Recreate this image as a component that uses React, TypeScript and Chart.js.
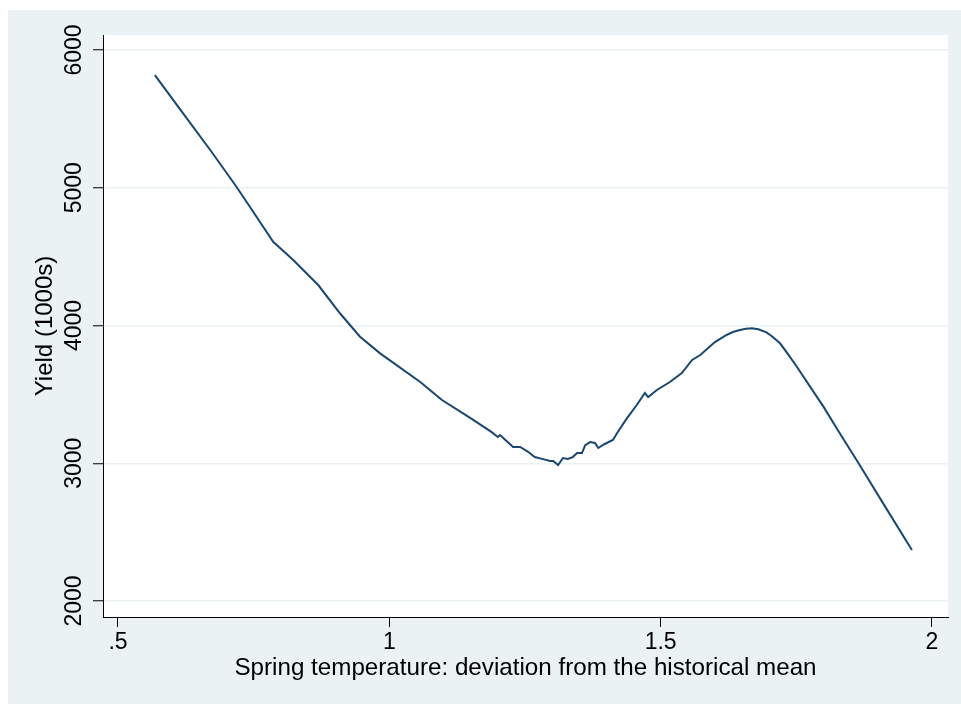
import React, { useEffect, useRef } from "react";
import { Chart, registerables } from "chart.js";

Chart.register(...registerables);

// Spring temperature deviation (x) and yield in 1000s (y)
const xValues = [
  0.568, 0.620, 0.670, 0.716, 0.743, 0.786, 0.823, 0.869, 0.909, 0.946,
  0.983, 1.057, 1.097, 1.149, 1.188, 1.200, 1.204, 1.215, 1.228, 1.241,
  1.255, 1.268, 1.283, 1.296, 1.302, 1.311, 1.320, 1.329, 1.338, 1.346,
  1.355, 1.361, 1.370, 1.379, 1.385, 1.397, 1.412, 1.421, 1.438, 1.456,
  1.471, 1.477, 1.493, 1.517, 1.539, 1.558, 1.573, 1.600, 1.620, 1.633,
  1.646, 1.657, 1.668, 1.680, 1.695, 1.705, 1.720, 1.735, 1.751, 1.775,
  1.800, 1.830, 1.861, 1.910, 1.963,
];
const yValues = [
  5818, 5540, 5274, 5020, 4862, 4608, 4476, 4294, 4089, 3919,
  3798, 3590, 3459, 3329, 3228, 3191, 3205, 3165, 3118, 3118,
  3085, 3045, 3030, 3016, 3016, 2987, 3038, 3031, 3045, 3074,
  3074, 3132, 3154, 3147, 3111, 3140, 3169, 3227, 3328, 3423,
  3510, 3481, 3532, 3590, 3655, 3750, 3786, 3880, 3928, 3953,
  3967, 3977, 3980, 3973, 3950, 3922, 3871, 3790, 3701, 3558,
  3411, 3218, 3024, 2709, 2370,
];

const xTickValues = [0.5, 1, 1.5, 2];
const xTickLabels = [".5", "1", "1.5", "2"];
const yTickValues = [2000, 3000, 4000, 5000, 6000];
const yTickLabels = ["2000", "3000", "4000", "5000", "6000"];
const xAxisTitle = "Spring temperature: deviation from the historical mean";
const yAxisTitle = "Yield (1000s)";
const xBounds = [0.4724, 2.0295];
const yBounds = [1884, 6109];

const FONT = "'Liberation Sans', Arial, Helvetica, sans-serif";
const BG = "#eaf2f3";
const NAVY = "#1a476f";

const plotBackground = {
  id: "plotBackground",
  beforeDraw(chart: any) {
    const { ctx, chartArea: a } = chart;
    ctx.save();
    ctx.fillStyle = "#ffffff";
    ctx.fillRect(a.left, a.top, a.right - a.left, a.bottom - a.top);
    ctx.restore();
  },
};

export default function App() {
  const canvasRef = useRef<HTMLCanvasElement | null>(null);

  useEffect(() => {
    document.body.style.overflow = "hidden";
    const canvas = canvasRef.current;
    if (!canvas) return;
    const points = xValues.map((x, i) => ({ x, y: yValues[i] }));
    const chart = new Chart(canvas, {
      type: "line",
      data: {
        datasets: [
          {
            data: points,
            borderColor: NAVY,
            borderWidth: 2,
            pointRadius: 0,
            tension: 0,
            fill: false,
          },
        ],
      },
      options: {
        responsive: false,
        animation: false,
        devicePixelRatio: 1,
        layout: { padding: { left: 0, top: 25, right: 13, bottom: 0 } },
        plugins: {
          legend: { display: false },
          tooltip: { enabled: false },
        },
        scales: {
          x: {
            type: "linear",
            min: xBounds[0],
            max: xBounds[1],
            afterBuildTicks: (scale: any) => {
              scale.ticks = xTickValues.map((v) => ({ value: v }));
            },
            afterFit: (scale: any) => {
              scale.height = 87;
            },
            ticks: {
              autoSkip: false,
              maxRotation: 0,
              minRotation: 0,
              padding: 2,
              color: "#000",
              font: { family: FONT, size: 23 },
              callback: (_v: any, i: number) => xTickLabels[i],
            },
            grid: {
              drawOnChartArea: false,
              drawTicks: true,
              tickLength: 10,
              tickColor: "#000",
              tickWidth: 1,
            },
            border: { display: true, color: "#000", width: 1 },
            title: {
              display: true,
              text: xAxisTitle,
              color: "#000",
              font: { family: FONT, size: 24.2 },
              padding: { top: 0, bottom: 21 },
            },
          },
          y: {
            type: "linear",
            min: yBounds[0],
            max: yBounds[1],
            afterBuildTicks: (scale: any) => {
              scale.ticks = yTickValues.map((v) => ({ value: v }));
            },
            afterFit: (scale: any) => {
              scale.width = 95;
            },
            ticks: {
              autoSkip: false,
              minRotation: 90,
              maxRotation: 90,
              crossAlign: "center",
              padding: -7,
              color: "#000",
              font: { family: FONT, size: 23 },
              callback: (_v: any, i: number) => yTickLabels[i],
            },
            grid: {
              drawOnChartArea: true,
              drawTicks: true,
              tickLength: 10,
              color: BG,
              lineWidth: 1.5,
              tickColor: "#000",
              tickWidth: 1,
            },
            border: { display: true, color: "#000", width: 1 },
            title: {
              display: true,
              text: yAxisTitle,
              color: "#000",
              font: { family: FONT, size: 24 },
              padding: { top: 22.6, bottom: 0 },
            },
          },
        },
      },
      plugins: [plotBackground],
    } as any);
    return () => {
      chart.destroy();
    };
  }, []);

  return (
    <div
      style={{
        position: "fixed",
        left: 8,
        top: 10,
        width: 953,
        height: 694,
        background: BG,
      }}
    >
      <canvas ref={canvasRef} width={953} height={694} style={{ display: "block" }} />
    </div>
  );
}
